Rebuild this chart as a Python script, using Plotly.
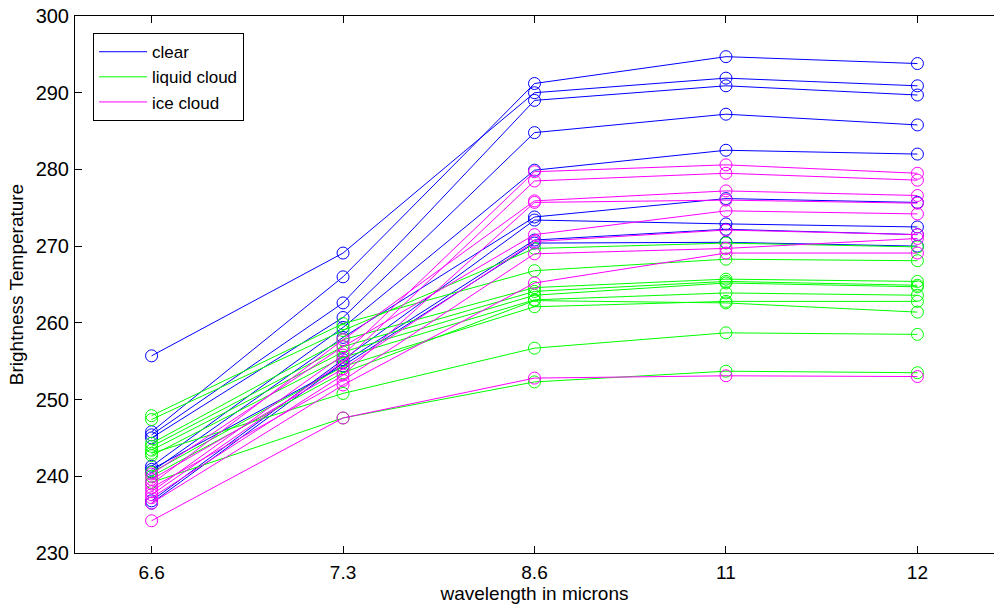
import plotly.graph_objects as go

wavelengths = ["6.6", "7.3", "8.6", "11", "12"]

clear = [
    [255.7, 269.1, 290.0, 291.9, 290.9],
    [245.8, 266.0, 291.2, 294.7, 293.8],
    [245.4, 262.6, 289.0, 290.9, 289.7],
    [245.0, 260.7, 284.8, 287.2, 285.8],
    [241.3, 259.4, 279.9, 282.5, 282.0],
    [240.6, 258.1, 273.8, 276.2, 275.7],
    [236.8, 255.2, 273.4, 272.9, 272.5],
    [236.5, 254.8, 270.8, 272.2, 271.5],
    [240.9, 254.4, 270.4, 270.5, 270.0],
]

liquid_cloud = [
    [247.9, 259.9, 266.8, 268.3, 268.1],
    [247.4, 259.0, 269.7, 270.4, 269.9],
    [244.3, 257.8, 264.6, 265.7, 265.4],
    [243.9, 256.9, 264.1, 265.4, 264.9],
    [243.4, 256.2, 263.6, 265.2, 264.7],
    [243.0, 250.8, 256.7, 258.7, 258.5],
    [242.7, 255.5, 263.0, 263.9, 263.6],
    [240.5, 254.3, 262.1, 262.8, 262.8],
    [240.0, 253.5, 262.9, 262.6, 261.4],
    [239.2, 247.6, 252.3, 253.7, 253.5],
]

ice_cloud = [
    [238.0, 255.8, 279.7, 280.6, 279.5],
    [237.6, 254.9, 278.5, 279.5, 278.6],
    [239.0, 257.8, 275.9, 277.2, 276.6],
    [237.2, 253.2, 275.7, 276.0, 275.6],
    [240.3, 256.9, 271.5, 274.6, 274.2],
    [239.6, 254.0, 270.6, 272.1, 271.5],
    [238.5, 252.5, 269.0, 269.7, 271.0],
    [236.5, 251.9, 265.2, 269.1, 269.1],
    [234.2, 247.6, 252.8, 253.1, 253.0],
]

groups = [
    ("clear", clear, "#0000FF"),
    ("liquid cloud", liquid_cloud, "#00FF00"),
    ("ice cloud", ice_cloud, "#FF00FF"),
]

FONT = "Liberation Sans, Arial, Helvetica, sans-serif"

fig = go.Figure()
for name, series, color in groups:
    for s in series:
        fig.add_trace(go.Scatter(
            x=wavelengths, y=s, mode="lines+markers",
            line=dict(color=color, width=1),
            marker=dict(symbol="circle-open", size=12, color=color, line=dict(width=1, color=color)),
            showlegend=False, hoverinfo="skip",
        ))
for name, series, color in groups:
    fig.add_trace(go.Scatter(
        x=[None], y=[None], mode="lines", name=name,
        line=dict(color=color, width=1), showlegend=True,
    ))

fig.update_layout(
    width=994, height=608,
    margin=dict(l=75, r=0, t=16, b=55),
    paper_bgcolor="white", plot_bgcolor="white",
    font=dict(family=FONT, size=20, color="black"),
    legend=dict(
        x=0.0196, y=0.968, xanchor="left", yanchor="top",
        bgcolor="white", bordercolor="black", borderwidth=1,
        font=dict(family=FONT, size=17, color="black"),
        tracegroupgap=0, itemwidth=48,
    ),
)
fig.update_xaxes(
    type="category", categoryorder="array", categoryarray=wavelengths,
    range=[-0.4, 4.4], automargin=False,
    showline=True, linecolor="black", linewidth=1, mirror="ticks",
    ticks="inside", ticklen=7, tickcolor="black", showgrid=False, zeroline=False,
    title=dict(text="wavelength in microns", standoff=2, font=dict(size=19)),
    tickfont=dict(size=19), ticklabelstandoff=2,
)
fig.update_yaxes(
    range=[230, 300], dtick=10, tick0=230, automargin=False,
    showline=True, linecolor="black", linewidth=1, mirror=False,
    ticks="inside", ticklen=7, tickcolor="black", showgrid=False, zeroline=False,
    title=dict(text="Brightness Temperature", standoff=6, font=dict(size=19)),
    tickfont=dict(size=20), ticklabelstandoff=1,
)

# remove the page's default body margin and scrollbars so the figure fills the window exactly
fig.write_html(
    "out.html",
    config={"displayModeBar": False},
    post_script=(
        "document.body.style.margin='0';"
        "document.body.style.overflow='hidden';"
        "document.documentElement.style.overflow='hidden';"
    ),
)
